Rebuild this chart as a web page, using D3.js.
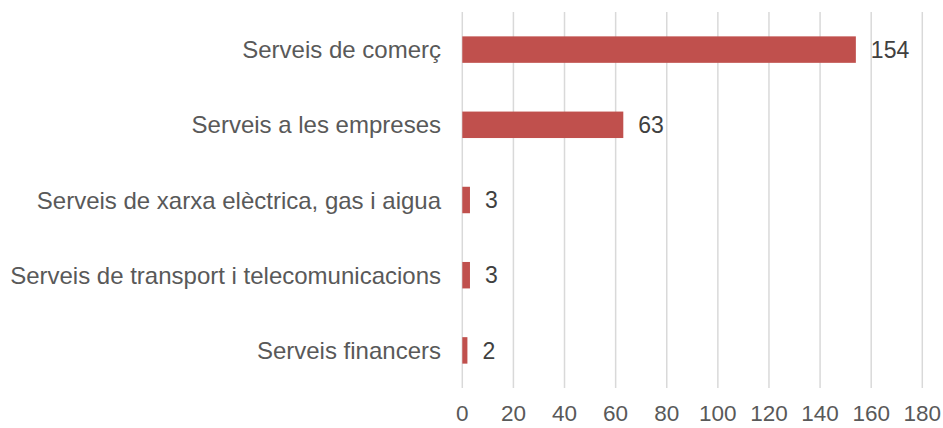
<!DOCTYPE html>
<html><head><meta charset="utf-8">
<script src="https://cdn.jsdelivr.net/npm/d3@7"></script>
<style>body{margin:0;background:#fff}svg{display:block}text{font-family:"Liberation Sans",Arial,sans-serif}</style>
</head><body>
<script>
const categories = ["Serveis de comerç","Serveis a les empreses","Serveis de xarxa elèctrica, gas i aigua","Serveis de transport i telecomunicacions","Serveis financers"];
const values = [154, 63, 3, 3, 2];
const ticks = [0,20,40,60,80,100,120,140,160,180];

const W = 943, H = 428;
const svg = d3.select("body").append("svg").attr("width", W).attr("height", H);
const x = d3.scaleLinear().domain([0,180]).range([462.3, 922.3]);
const y = d3.scaleBand().domain(categories).range([12, 388]).padding(0);
const barH = y.bandwidth()*0.352;

svg.append("g").selectAll("line").data(ticks).join("line")
  .attr("x1", d=>x(d)).attr("x2", d=>x(d)).attr("y1", 12).attr("y2", 388)
  .attr("stroke", "#d9d9d9").attr("stroke-width", 1.5);

svg.append("g").selectAll("rect").data(values).join("rect")
  .attr("x", x(0)).attr("width", d=>x(d)-x(0))
  .attr("y", (d,i)=>y(categories[i]) + (y.bandwidth()-barH)/2)
  .attr("height", barH).attr("fill", "#c0504d");

svg.append("g").selectAll("text").data(values).join("text")
  .attr("x", d=>x(d)+15).attr("y", (d,i)=>y(categories[i])+y.bandwidth()/2)
  .attr("dy", "0.36em").attr("font-size", 23).attr("fill", "#404040").text(d=>d);

svg.append("g").selectAll("text").data(categories).join("text")
  .attr("x", 441).attr("y", d=>y(d)+y.bandwidth()/2)
  .attr("dy", "0.36em").attr("text-anchor", "end").attr("font-size", 24).attr("fill", "#595959").text(d=>d);

svg.append("g").selectAll("text").data(ticks).join("text")
  .attr("x", d=>x(d)).attr("y", 413).attr("dy","0.36em").attr("text-anchor","middle")
  .attr("font-size", 22.5).attr("fill", "#595959").text(d=>d);
</script>
</body></html>
